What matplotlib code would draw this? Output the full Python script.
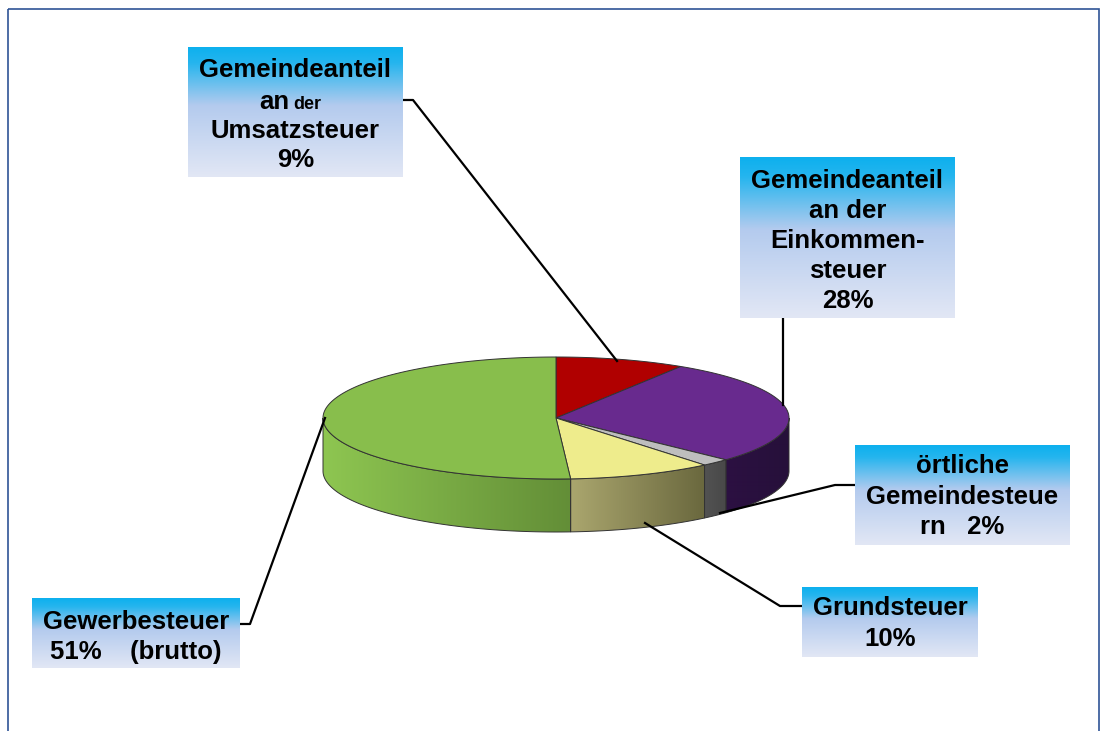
import numpy as np
import matplotlib.pyplot as plt
from matplotlib.patches import Polygon, Rectangle
from matplotlib.colors import LinearSegmentedColormap

# Anteile an den Gemeindesteuern (im Uhrzeigersinn ab 12 Uhr)
names = ['Umsatzsteuer', 'Einkommensteuer', 'oertliche', 'Grundsteuer', 'Gewerbesteuer']
shares = [9, 28, 2, 10, 51]
top_colors = ['#B00000', '#682A8E', '#BEBEBE', '#EEEC8C', '#88BE4C']
side_colors = [('#7A0000', '#600000'), ('#2C1042', '#26103A'), ('#525252', '#484848'),
               ('#AAA66E', '#6A683E'), ('#8EC651', '#638E37')]

# label boxes: (x0, y0, x1, y1), lines of text (y, text)
boxes = [
    ((188, 47, 403, 177), [(70, 'Gemeindeanteil'), (101, None), (131, 'Umsatzsteuer'), (160, '9%')]),
    ((740, 157, 955, 318), [(181, 'Gemeindeanteil'), (211, 'an der'), (241, 'Einkommen-'), (271, 'steuer'), (301, '28%')]),
    ((855, 445, 1070, 545), [(466, 'örtliche'), (497, 'Gemeindesteue'), (527, 'rn   2%')]),
    ((802, 587, 978, 657), [(608, 'Grundsteuer'), (639, '10%')]),
    ((32, 598, 240, 668), [(622, 'Gewerbesteuer'), (652, '51%    (brutto)')]),
]
leaders = [
    [(403, 100), (413, 100), (617, 361)],
    [(783, 318), (783, 405)],
    [(855, 485), (835, 485), (720, 513)],
    [(802, 606), (780, 606), (645, 523)],
    [(240, 624), (250, 624), (325, 418)],
]

cx, cy, a, b, depth = 556, 418, 233, 61, 53

fig = plt.figure(figsize=(11.01, 7.31), dpi=100)
ax = fig.add_axes([0, 0, 1, 1])
ax.set_axis_off()

edges = 90 - 360 * np.concatenate([[0], np.cumsum(shares)]) / 100.0


def ell(t):
    r = np.radians(t)
    return cx + a * np.cos(r), cy - b * np.sin(r)


# side walls (front half only)
for i in range(len(shares)):
    t0, t1 = edges[i], edges[i + 1]
    lo, hi = max(t1, -180), min(t0, 0)
    if hi <= lo:
        continue
    t = np.linspace(hi, lo, 120)
    x, y = ell(t)
    pts = np.vstack([np.column_stack([x, y]), np.column_stack([x[::-1], y[::-1] + depth])])
    poly = Polygon(pts, closed=True, facecolor='none', edgecolor='#333333', lw=0.7, zorder=3)
    ax.add_patch(poly)
    cmap = LinearSegmentedColormap.from_list('s%d' % i, list(side_colors[i]))
    im = ax.imshow(np.linspace(0, 1, 256)[None, :], cmap=cmap, aspect='auto', zorder=2,
                   extent=(x.min(), x.max(), y.max() + depth, y.min()))
    im.set_clip_path(poly)

# top faces
for i in range(len(shares)):
    t = np.linspace(edges[i], edges[i + 1], 200)
    x, y = ell(t)
    pts = np.vstack([[cx, cy], np.column_stack([x, y])])
    ax.add_patch(Polygon(pts, closed=True, facecolor=top_colors[i], edgecolor='#333333',
                         lw=0.7, zorder=4))

# leader lines
for pts in leaders:
    xs, ys = zip(*pts)
    ax.plot(xs, ys, color='black', lw=1.6, zorder=5)

# label boxes with gradient
box_cmap = LinearSegmentedColormap.from_list('box', [(0, '#0DB0EE'), (0.12, '#25B5EE'),
                                                     (0.45, '#B4CBEE'), (1, '#E2E7F5')])
font = dict(family=['Liberation Sans', 'DejaVu Sans'], weight='bold', color='black')
fs = 18.5
for (x0, y0, x1, y1), lines in boxes:
    ax.imshow(np.linspace(0, 1, 256)[:, None], cmap=box_cmap, aspect='auto', zorder=6,
              extent=(x0, x1, y1, y0))
    xm = (x0 + x1) / 2
    for yy, txt in lines:
        if txt is None:
            ax.text(xm - 6, yy + 8, 'an', ha='right', va='baseline', fontsize=fs, zorder=7, **font)
            ax.text(xm - 2, yy + 8, 'der', ha='left', va='baseline', fontsize=13, zorder=7, **font)
        else:
            ax.text(xm, yy, txt, ha='center', va='center', fontsize=fs, zorder=7, **font)

# outer frame
ax.add_patch(Rectangle((8, 9), 1091, 740, fill=False, edgecolor='#2F5496', lw=1.2, zorder=1))

ax.set_xlim(0, 1101)
ax.set_ylim(731, 0)
fig.savefig('out.png', dpi=100)
